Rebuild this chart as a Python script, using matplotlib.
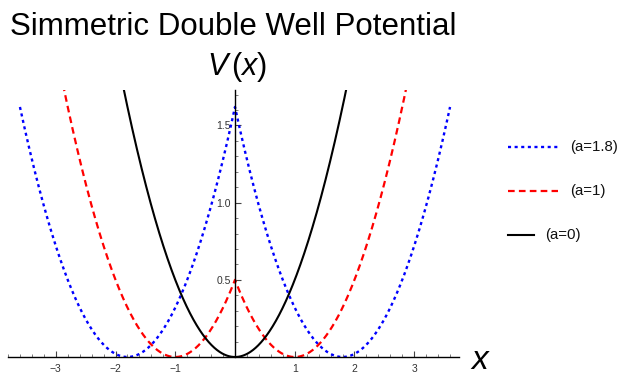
import numpy as np
import matplotlib
matplotlib.use("Agg")
import matplotlib.pyplot as plt
from matplotlib.lines import Line2D
from matplotlib.ticker import MultipleLocator, FixedLocator

plt.rcParams['font.family'] = ['Liberation Sans', 'DejaVu Sans']
plt.rcParams['mathtext.fontset'] = 'custom'
plt.rcParams['mathtext.rm'] = 'Liberation Sans'
plt.rcParams['mathtext.it'] = 'Liberation Sans:italic'

# well-separation parameters and plot styling per curve
a_values = [1.8, 1.0, 0.0]
labels = ["(a=1.8)", "(a=1)", "(a=0)"]
colors = ["#0000ff", "#ff0000", "#000000"]
x_domain = [-3.6, 3.6]
x_ticks = [-3, -2, -1, 1, 2, 3]
y_ticks = [0.5, 1.0, 1.5]

W, H = 623, 375
fig = plt.figure(figsize=(W / 100, H / 100), dpi=100)

# axes box in pixel units of the figure
left_px, right_px, top_px, bottom_px = 8, 459, 90, 357
ax = fig.add_axes([left_px / W, 1 - bottom_px / H,
                   (right_px - left_px) / W, (bottom_px - top_px) / H])
ax.set_xlim(-3.8, 3.75)
ax.set_ylim(0, 1.73)

x = np.linspace(x_domain[0], x_domain[1], 2001)
styles = [
    dict(linestyle=(0, (1.3, 1.5)), linewidth=1.7),
    dict(linestyle=(0, (3.0, 1.9)), linewidth=1.6),
    dict(linestyle='-', linewidth=1.5),
]
for a, c, st in zip(a_values, colors, styles):
    v = 0.5 * (np.abs(x) - a) ** 2
    ax.plot(x, v, color=c, clip_on=True, **st)

# axes crossing at the origin
for side in ("top", "right"):
    ax.spines[side].set_visible(False)
ax.spines["left"].set_position(("data", 0))
ax.spines["bottom"].set_position(("data", 0))
ax.spines["left"].set_linewidth(1.0)
ax.spines["bottom"].set_linewidth(1.0)

ax.xaxis.set_major_locator(FixedLocator(x_ticks))
ax.xaxis.set_minor_locator(MultipleLocator(0.2))
ax.yaxis.set_major_locator(FixedLocator(y_ticks))
ax.yaxis.set_minor_locator(MultipleLocator(0.1))
ax.set_xticklabels([f"\u2212{abs(t)}" if t < 0 else str(t) for t in x_ticks])
ax.set_yticklabels([f"{t:.1f}" for t in y_ticks])

ax.tick_params(axis='x', which='major', direction='in', length=4.5, width=0.8,
               color='#444444', labelsize=7.5, labelcolor='#333333', pad=5)
ax.tick_params(axis='x', which='minor', direction='in', length=2.5, width=0.6,
               color='#666666')
ax.tick_params(axis='y', which='major', direction='in', length=4.5, width=0.8,
               color='#444444', labelsize=7.5, labelcolor='#333333', pad=3)
ax.tick_params(axis='y', which='minor', direction='in', length=2.5, width=0.6,
               color='#666666')

# titles and axis names
fig.text(10 / W, 1 - 35 / H, "Simmetric Double Well Potential",
         fontsize=22.5, va='baseline', ha='left')
fig.text(237 / W, 1 - 75 / H, r"$V\,(x)$", fontsize=22,
         va='baseline', ha='center')
fig.text(481 / W, 1 - 369 / H, r"$x$", fontsize=24,
         va='baseline', ha='center')

# legend samples on the right
legend_rows = [
    (147, 508, 558, 570),
    (191, 508, 558, 570),
    (235, 508, 534, 545),
]
for (yp, x0, x1, xt), lab, c, st in zip(legend_rows, labels, colors, styles):
    fig.add_artist(Line2D([x0 / W, x1 / W], [1 - yp / H, 1 - yp / H],
                          color=c, transform=fig.transFigure, **st))
    fig.text(xt / W, 1 - yp / H, lab, fontsize=10.8, va='center', ha='left',
             color='#111111')

fig.savefig("out.png", dpi=100)
